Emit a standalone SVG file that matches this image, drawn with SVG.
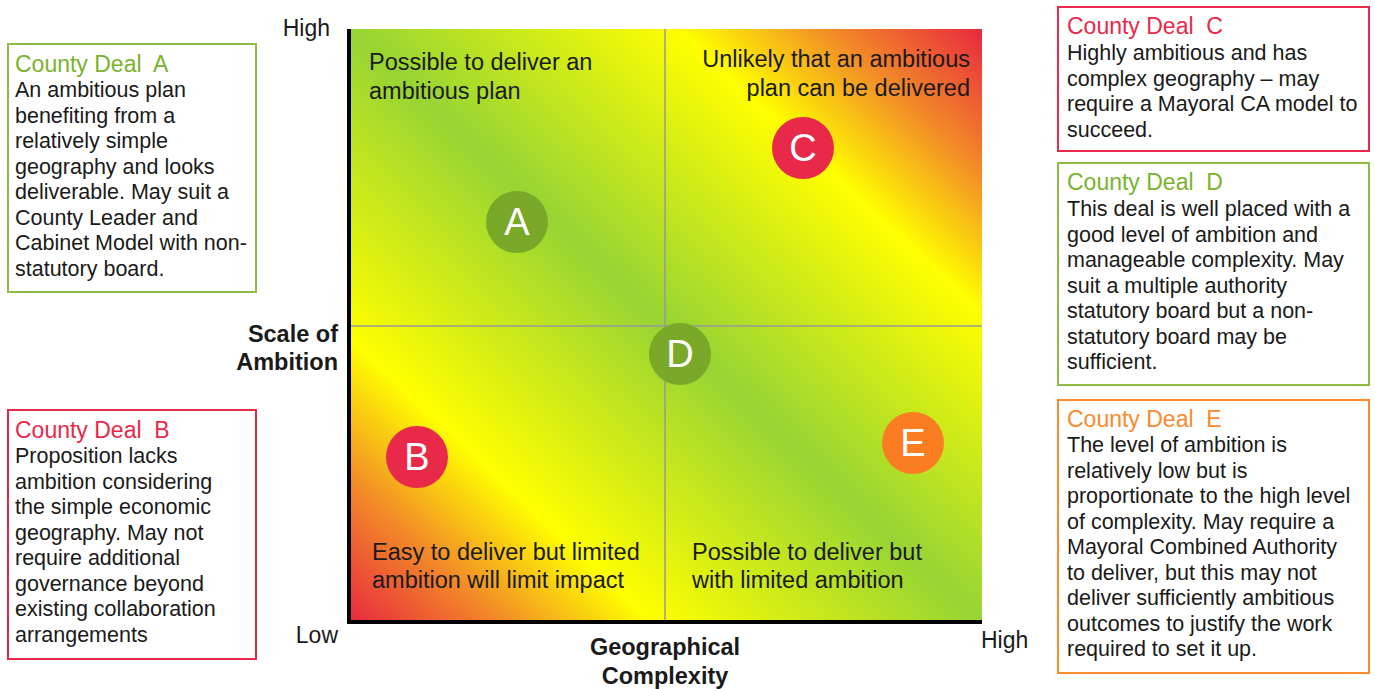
<svg xmlns="http://www.w3.org/2000/svg" width="1375" height="689" viewBox="0 0 1375 689">
<defs>
<linearGradient id="heat" x1="0" y1="1" x2="1" y2="0">
<stop offset="0" stop-color="#e8283f"/>
<stop offset="0.12" stop-color="#f28a28"/>
<stop offset="0.24" stop-color="#ffff00"/>
<stop offset="0.5" stop-color="#97d434"/>
<stop offset="0.76" stop-color="#ffff00"/>
<stop offset="0.88" stop-color="#f28a28"/>
<stop offset="1" stop-color="#e8283f"/>
</linearGradient>
<style>
text{font-family:"Liberation Sans",Arial,sans-serif;fill:#1a1a1a}
.body{font-size:21.5px}
.title{font-size:23px}
.quad{font-size:23.5px}
.axis{font-size:23px}
.axt{font-size:23.5px;font-weight:bold}
.letter{font-size:38px;fill:#ffffff;text-anchor:middle}
.box{fill:#ffffff;stroke-width:2}
.g{stroke:#8dbb44}
.r{stroke:#e8294a}
.o{stroke:#f98a2e}
.tg{fill:#7ab32e}
.tr{fill:#e8294a}
.to{fill:#f98a2e}
</style>
</defs>
<rect width="1375" height="689" fill="#ffffff"/>
<g id="plot">
<rect x="349" y="29" width="633" height="593" fill="url(#heat)"/>
<text class="quad" x="369" y="70">Possible to deliver an</text>
<text class="quad" x="369" y="99">ambitious plan</text>
<text class="quad" x="970" y="67" text-anchor="end">Unlikely that an ambitious</text>
<text class="quad" x="970" y="96" text-anchor="end">plan can be delivered</text>
<text class="quad" x="372" y="560">Easy to deliver but limited</text>
<text class="quad" x="372" y="588">ambition will limit impact</text>
<text class="quad" x="692" y="560">Possible to deliver but</text>
<text class="quad" x="692" y="588">with limited ambition</text>
</g>
<g id="connectors">
<line x1="665" y1="29" x2="665" y2="622" stroke="#999999" stroke-width="1.5"/>
<line x1="349" y1="326" x2="982" y2="326" stroke="#999999" stroke-width="1.5"/>
<line x1="349" y1="29" x2="349" y2="624" stroke="#000000" stroke-width="4"/>
<line x1="347" y1="622" x2="982" y2="622" stroke="#000000" stroke-width="4"/>
</g>
<g id="axis-labels">
<text class="axis" x="330" y="36" text-anchor="end">High</text>
<text class="axis" x="338" y="643" text-anchor="end">Low</text>
<text class="axis" x="981" y="648">High</text>
<text class="axt" x="338" y="342" text-anchor="end">Scale of</text>
<text class="axt" x="338" y="370" text-anchor="end">Ambition</text>
<text class="axt" x="665" y="655" text-anchor="middle">Geographical</text>
<text class="axt" x="665" y="684" text-anchor="middle">Complexity</text>
</g>
<g id="point-A"><circle cx="517" cy="222" r="31" fill="#7aa829"/><text class="letter" x="517" y="235">A</text></g>
<g id="point-C"><circle cx="803" cy="148" r="31" fill="#e8294a"/><text class="letter" x="803" y="161">C</text></g>
<g id="point-D"><circle cx="680" cy="354" r="31" fill="#7aa829"/><text class="letter" x="680" y="367">D</text></g>
<g id="point-B"><circle cx="417" cy="457" r="31" fill="#e8294a"/><text class="letter" x="417" y="470">B</text></g>
<g id="point-E"><circle cx="913" cy="443" r="31" fill="#fb7d21"/><text class="letter" x="913" y="456">E</text></g>
<g id="box-A">
<rect class="box g" x="8" y="44" width="248" height="248"/>
<text class="title tg" x="15" y="72" xml:space="preserve">County Deal  A</text>
<text class="body" x="15" y="97">An ambitious plan</text>
<text class="body" x="15" y="122.5">benefiting from a</text>
<text class="body" x="15" y="148">relatively simple</text>
<text class="body" x="15" y="173.5">geography and looks</text>
<text class="body" x="15" y="199">deliverable. May suit a</text>
<text class="body" x="15" y="224.5">County Leader and</text>
<text class="body" x="15" y="250">Cabinet Model with non-</text>
<text class="body" x="15" y="275.5">statutory board.</text>
</g>
<g id="box-B">
<rect class="box r" x="8" y="410" width="248" height="249"/>
<text class="title tr" x="15" y="438" xml:space="preserve">County Deal  B</text>
<text class="body" x="15" y="463">Proposition lacks</text>
<text class="body" x="15" y="488.5">ambition considering</text>
<text class="body" x="15" y="514">the simple economic</text>
<text class="body" x="15" y="539.5">geography. May not</text>
<text class="body" x="15" y="565">require additional</text>
<text class="body" x="15" y="590.5">governance beyond</text>
<text class="body" x="15" y="616">existing collaboration</text>
<text class="body" x="15" y="641.5">arrangements</text>
</g>
<g id="box-C">
<rect class="box r" x="1058" y="7" width="311" height="144"/>
<text class="title tr" x="1067" y="34" xml:space="preserve">County Deal  C</text>
<text class="body" x="1067" y="60">Highly ambitious and has</text>
<text class="body" x="1067" y="85.5">complex geography – may</text>
<text class="body" x="1067" y="111">require a Mayoral CA model to</text>
<text class="body" x="1067" y="136.5">succeed.</text>
</g>
<g id="box-D">
<rect class="box g" x="1058" y="163" width="311" height="222"/>
<text class="title tg" x="1067" y="190" xml:space="preserve">County Deal  D</text>
<text class="body" x="1067" y="216">This deal is well placed with a</text>
<text class="body" x="1067" y="241.5">good level of ambition and</text>
<text class="body" x="1067" y="267">manageable complexity. May</text>
<text class="body" x="1067" y="292.5">suit a multiple authority</text>
<text class="body" x="1067" y="318">statutory board but a non-</text>
<text class="body" x="1067" y="343.5">statutory board may be</text>
<text class="body" x="1067" y="369">sufficient.</text>
</g>
<g id="box-E">
<rect class="box o" x="1058" y="400" width="311" height="273"/>
<text class="title to" x="1067" y="427" xml:space="preserve">County Deal  E</text>
<text class="body" x="1067" y="452">The level of ambition is</text>
<text class="body" x="1067" y="477.5">relatively low but is</text>
<text class="body" x="1067" y="503">proportionate to the high level</text>
<text class="body" x="1067" y="528.5">of complexity. May require a</text>
<text class="body" x="1067" y="554">Mayoral Combined Authority</text>
<text class="body" x="1067" y="579.5">to deliver, but this may not</text>
<text class="body" x="1067" y="605">deliver sufficiently ambitious</text>
<text class="body" x="1067" y="630.5">outcomes to justify the work</text>
<text class="body" x="1067" y="656">required to set it up.</text>
</g>
</svg>
